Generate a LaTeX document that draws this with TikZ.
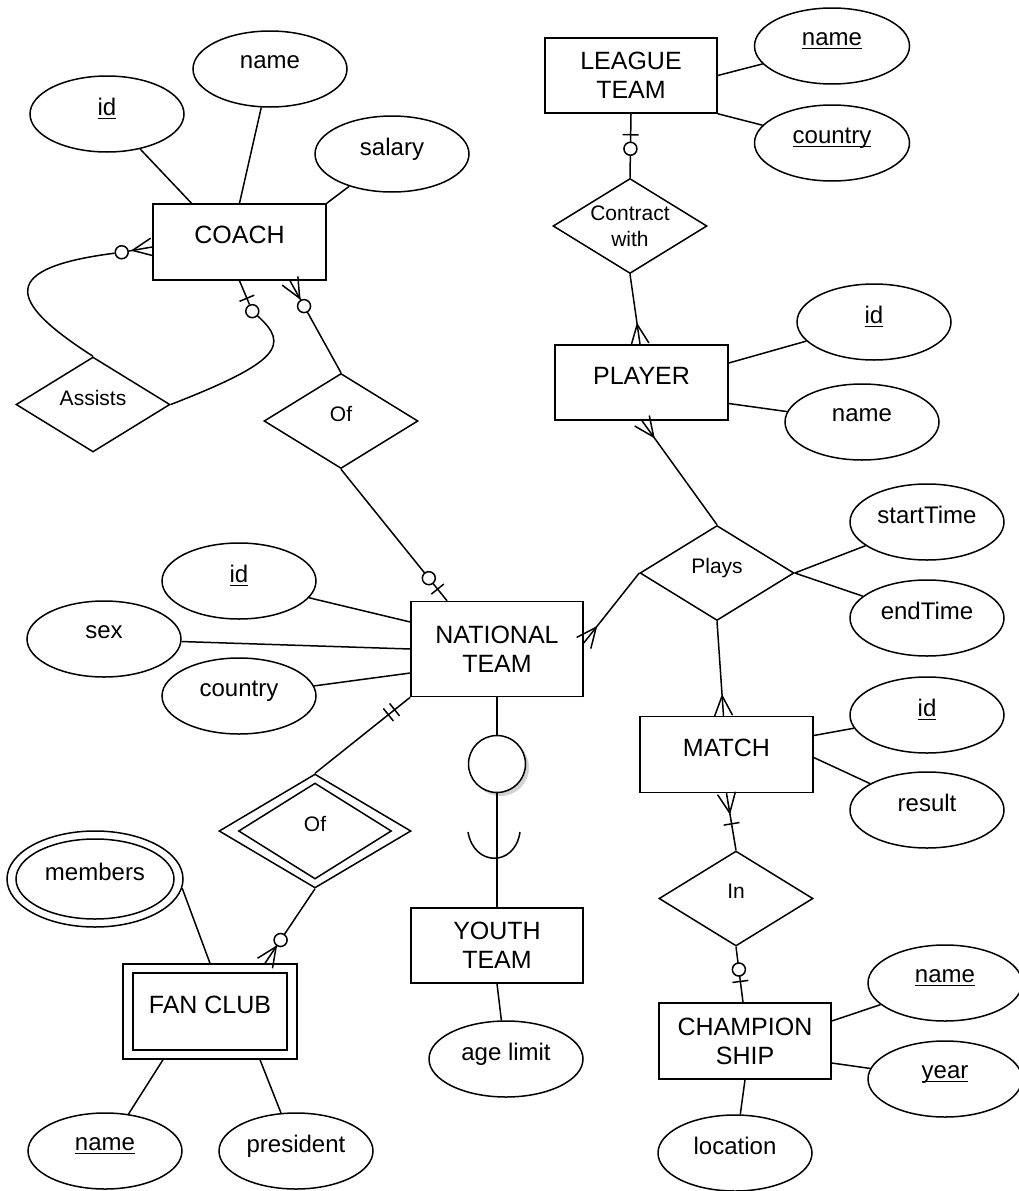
\documentclass[tikz,border=0pt]{standalone}
\usepackage{fontspec}
\setmainfont{Liberation Sans}
\usetikzlibrary{shapes.geometric,calc,shadows}
\newcommand\ulx[1]{\setbox0\hbox{#1}\rlap{\rule[-3.5pt]{\wd0}{1.2pt}}\box0}
\newcommand\xcrow[2]{\draw[conn] ($(#1)!20pt!(#2)$) -- ($(#1)!9pt!90:(#2)$) ($(#1)!20pt!(#2)$) -- ($(#1)!9pt!-90:(#2)$);}
\newcommand\xbar[3]{\draw[conn] ($(#1)!#3!(#2)!8pt!90:(#2)$) -- ($(#1)!#3!(#2)!8pt!-90:(#2)$);}
\newcommand\xcirc[4]{\node[ocirc] (#4) at ($(#1)!#3!(#2)$) {};}
\tikzset{
 lw/.style={line width=1.5pt},
 conn/.style={lw},
 ent/.style={draw, lw, rectangle, minimum width=173pt, minimum height=76pt, inner sep=0pt, font=\fontsize{25}{29}\selectfont, text depth=14pt},
 ent2/.style={ent, align=center, text depth=},
 attr/.style={draw, lw, ellipse, minimum width=154pt, minimum height=76pt, inner sep=0pt, font=\fontsize{24}{28}\selectfont, text depth=14pt},
 rel/.style={draw, lw, diamond, aspect=1.62, minimum width=154pt, minimum height=95pt, inner sep=0pt, font=\fontsize{21}{26}\selectfont, text depth=14pt},
 ocirc/.style={draw, lw, circle, fill=white, minimum size=13pt, inner sep=0pt},
}
\begin{document}
\begin{tikzpicture}[x=1pt,y=-1pt]
\fill[white] (0,0) rectangle (1018,1191);
\useasboundingbox (0,0) rectangle (1018,1191);
% entities
\node[ent] (coach) at (239.5,242) {COACH};
\node[ent2, minimum width=172pt, minimum height=75pt] (lt) at (631,75.5) {LEAGUE\\TEAM};
\node[ent, minimum height=75pt] (player) at (641.5,382.5) {PLAYER};
\node[ent2, minimum width=172pt, minimum height=95pt] (nat) at (497,649) {NATIONAL\\TEAM};
\node[ent] (match) at (726.5,754.5) {MATCH};
\node[ent2, minimum width=172pt, minimum height=75pt] (youth) at (497,945.5) {YOUTH\\TEAM};
\node[ent, minimum width=174pt, minimum height=95pt] (fan) at (210,1011.5) {FAN CLUB};
\node[draw, lw, minimum width=154pt, minimum height=77pt, inner sep=0pt] (fani) at (210,1011.5) {};
\node[ent2, minimum width=172pt] (champ) at (745,1041) {CHAMPION\\SHIP};
% relationships
\node[rel] (assists) at (93,404.5) {Assists};
\node[rel] (cof) at (341,421) {Of};
\node[rel, align=center, text depth=] (contract) at (630,226) {Contract\\with};
\node[rel] (plays) at (717,573) {Plays};
\node[rel] (in) at (736,898.5) {In};
\node[rel, minimum width=192pt, minimum height=114pt] (wof) at (315,831) {Of};
\node[draw, lw, diamond, aspect=1.6, minimum width=153pt, minimum height=96pt, inner sep=0pt] (wofi) at (315,831) {};
% attributes
\node[attr] (cid) at (107,114) {\ulx{id}};
\node[attr] (cname) at (270,69) {name};
\node[attr] (salary) at (392,154) {salary};
\node[attr, minimum width=155pt] (lname) at (832,46) {\ulx{name}};
\node[attr, minimum width=155pt] (lcountry) at (832,143) {\ulx{country}};
\node[attr] (pid) at (874,322) {\ulx{id}};
\node[attr] (pname) at (862,422) {name};
\node[attr] (st) at (927,522) {startTime};
\node[attr] (et) at (927,618) {endTime};
\node[attr] (mid) at (927,715) {\ulx{id}};
\node[attr] (result) at (927,810) {result};
\node[attr] (nid) at (239,581) {\ulx{id}};
\node[attr] (sex) at (104,639) {sex};
\node[attr] (ncountry) at (239,696) {country};
\node[attr, minimum width=176pt, minimum height=96pt] (members) at (95,879) {members};
\node[draw, lw, ellipse, minimum width=158pt, minimum height=80pt, inner sep=0pt] (membersi) at (95,879) {};
\node[attr] (fname) at (105,1151) {\ulx{name}};
\node[attr] (pres) at (296,1151) {president};
\node[attr] (age) at (506,1059) {age limit};
\node[attr] (chname) at (945,983) {\ulx{name}};
\node[attr] (year) at (945,1079) {\ulx{year}};
\node[attr] (loc) at (735,1153) {location};
% subset circle
\node[draw, lw, circle, fill=white, minimum size=57pt, inner sep=0pt, drop shadow={opacity=0.35, shadow xshift=3.5pt, shadow yshift=-3.5pt}] (sub) at (497,764) {};
\draw[conn] (nat.south) -- (sub.north);
\draw[conn] (sub.south) -- (youth.north);
\draw[conn] (468,832) .. controls (474,867) and (515,867) .. (520,832);
% attribute connectors
\draw[conn] (cid) -- ($(coach.north)+(-48,0)$);
\draw[conn] (cname) -- (coach.north);
\draw[conn] (salary) -- (coach.north east);
\draw[conn] (lname) -- (lt.east);
\draw[conn] (lcountry) -- (lt.south east);
\draw[conn] (pid) -- ($(player.east)+(0,-19.5)$);
\draw[conn] (pname) -- ($(player.east)+(0,21)$);
\draw[conn] (st) -- (plays.east);
\draw[conn] (et) -- (plays.east);
\draw[conn] (mid) -- ($(match.east)+(0,-19)$);
\draw[conn] (result) -- ($(match.east)+(0,3)$);
\draw[conn] (chname) -- ($(champ.east)+(0,-20)$);
\draw[conn] (year) -- ($(champ.east)+(0,22)$);
\draw[conn] (loc) -- (champ.south);
\draw[conn] (nid) -- ($(nat.west)+(0,-27)$);
\draw[conn] (sex) -- (nat.west);
\draw[conn] (ncountry) -- ($(nat.west)+(0,24)$);
\draw[conn] (members.-6) -- (fan.north);
\draw[conn] (fname) -- ($(fan.south)+(-47,0)$);
\draw[conn] (pres) -- ($(fan.south)+(50,0)$);
\draw[conn] (age) -- (youth.south);
% league - contract
\draw[conn] (lt.south) -- (contract.north);
\xbar{lt.south}{contract.north}{21pt}
\xcirc{lt.south}{contract.north}{35pt}{o1}
% contract - player
\coordinate (ePl) at ($(player.north)+(-1.5,0)$);
\draw[conn] (contract.south) -- (ePl);
\xcrow{ePl}{contract.south}
% player - plays
\coordinate (ePl2) at ($(player.south)+(0.5,0)$);
\draw[conn] (plays.north) -- (ePl2);
\xcrow{ePl2}{plays.north}
% plays - national
\coordinate (eN1) at ($(nat.east)+(0,-6)$);
\draw[conn] (plays.west) -- (eN1);
\xcrow{eN1}{plays.west}
% plays - match
\coordinate (eM1) at ($(match.north)+(-3,0)$);
\draw[conn] (plays.south) -- (eM1);
\xcrow{eM1}{plays.south}
% match - in
\draw[conn] (match.south) -- (in.north);
\xcrow{match.south}{in.north}
\xbar{match.south}{in.north}{31pt}
% in - championship
\coordinate (eC1) at ($(champ.north)+(-2,0)$);
\draw[conn] (in.south) -- (eC1);
\xbar{eC1}{in.south}{21pt}
\xcirc{eC1}{in.south}{33pt}{o2}
% coach - of
\coordinate (eCo) at ($(coach.south)+(50.5,0)$);
\draw[conn] (eCo) -- (cof.north);
\xcrow{eCo}{cof.north}
\xcirc{eCo}{cof.north}{29pt}{o3}
% of - national
\coordinate (eN2) at ($(nat.north)+(-50,0)$);
\draw[conn] (cof.south) -- (eN2);
\xbar{eN2}{cof.south}{15pt}
\xcirc{eN2}{cof.south}{29pt}{o4}
% national - weak of
\draw[conn] (nat.south west) -- (wof.north);
\xbar{nat.south west}{wof.north}{20pt}
\xbar{nat.south west}{wof.north}{28pt}
% weak of - fan club
\coordinate (eF) at ($(fan.north)+(55,0)$);
\draw[conn] (wof.south) -- (eF);
\xcrow{eF}{wof.south}
\xcirc{eF}{wof.south}{28pt}{o5}
% coach - assists (left)
\coordinate (eCa) at ($(coach.west)+(0,5)$);
\coordinate (dCa) at (100,256);
\xcirc{eCa}{dCa}{31pt}{o6}
\draw[conn] (eCa) -- (o6);
\draw[conn] (o6) .. controls (0,268) and (5,300) .. (assists.north);
\xcrow{eCa}{dCa}
% coach - assists (right)
\coordinate (dCb) at (256,320);
\xbar{coach.south}{dCb}{19pt}
\xcirc{coach.south}{dCb}{33pt}{o7}
\draw[conn] (coach.south) -- (o7);
\draw[conn] (o7) .. controls (290,345) and (280,362) .. (assists.east);
\end{tikzpicture}
\end{document}
